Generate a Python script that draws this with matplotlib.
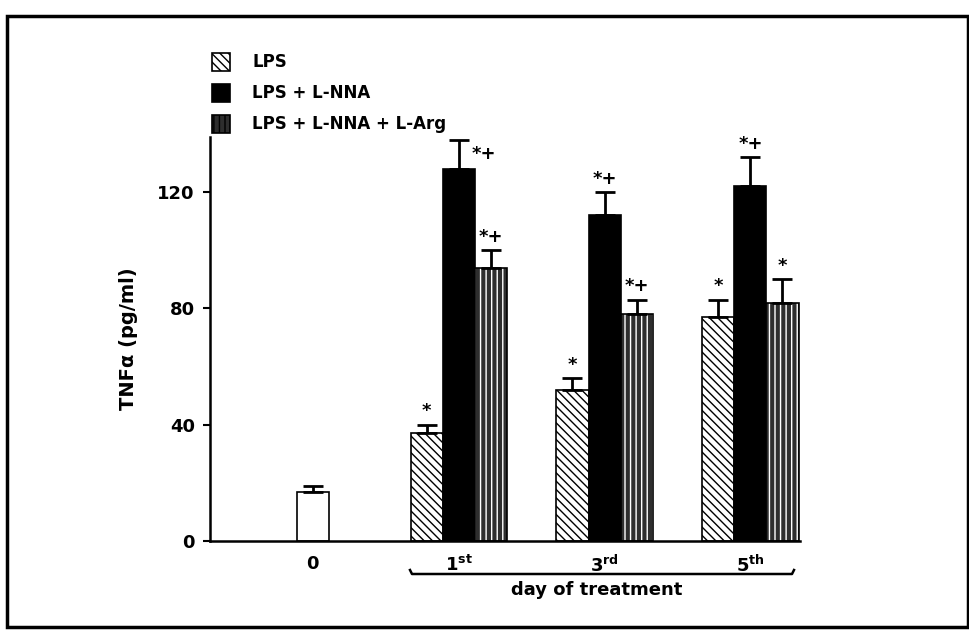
import matplotlib.pyplot as plt
from matplotlib.patches import Rectangle
from matplotlib.lines import Line2D

plt.rcParams['font.family'] = ['DejaVu Sans']
plt.rcParams['font.weight'] = 'bold'
plt.rcParams['hatch.linewidth'] = 1.0

# data (pg/ml)
days = ['0', r'1$^{\mathbf{st}}$', r'3$^{\mathbf{rd}}$', r'5$^{\mathbf{th}}$']
control = [17]
control_err = [2]
lps = [37, 52, 77]
lps_err = [3, 4, 6]
lnna = [128, 112, 122]
lnna_err = [10, 8, 10]
larg = [94, 78, 82]
larg_err = [6, 5, 8]
lps_marks = ['*', '*', '*']
lnna_marks = ['*+', '*+', '*+']
larg_marks = ['*+', '*+', '*']
series_names = ['LPS', 'LPS + L-NNA', 'LPS + L-NNA + L-Arg']

fig = plt.figure(figsize=(9.7, 6.3), dpi=100)
ax = fig.add_axes([210/970, 1 - 541/630, 590/970, 404/630])

w = 0.22
pos = [1, 2, 3]
ebkw = dict(lw=2, capthick=2)

ax.bar([0], control, w, color='white', edgecolor='black', lw=1.2)
ax.errorbar([0], control, yerr=[[0], control_err], fmt='none', ecolor='black',
            capsize=7, **ebkw)

x_lps = [p - w for p in pos]
x_lnna = pos
x_larg = [p + w for p in pos]

ax.bar(x_lps, lps, w, color='white', edgecolor='black', hatch='\\\\\\\\', lw=1.2)
ax.bar(x_lnna, lnna, w, color='black', edgecolor='black', lw=1.2)
ax.bar(x_larg, larg, w, color='#2e2e2e', edgecolor='white', hatch='|||', lw=0)
ax.bar(x_larg, larg, w, fill=False, edgecolor='black', lw=1.2)

for xs, vals, errs, marks in [(x_lps, lps, lps_err, lps_marks),
                              (x_lnna, lnna, lnna_err, lnna_marks),
                              (x_larg, larg, larg_err, larg_marks)]:
    ax.errorbar(xs, vals, yerr=[[0]*len(errs), errs], fmt='none', ecolor='black',
                capsize=7, **ebkw)
    for x, v, e, m in zip(xs, vals, errs, marks):
        if v + e > 135:
            # no room above the tallest bar: mark sits beside the error bar
            ax.text(x + 0.17, v + e - 5, m, ha='center', va='center',
                    fontsize=13, fontweight='bold')
        else:
            ax.text(x, v + e + 1.5, m, ha='center', va='bottom', fontsize=13,
                    fontweight='bold')

ax.set_xlim(-0.705, 3.34)
ax.set_ylim(0, 139)
ax.set_yticks([0, 40, 80, 120])
ax.set_xticks([0, 1, 2, 3])
ax.set_xticklabels(days, fontsize=13, fontweight='bold')
ax.tick_params(axis='x', length=0, pad=10)
ax.tick_params(axis='y', direction='out', length=5, width=1.5, labelsize=13, pad=6)
for s in ['top', 'right']:
    ax.spines[s].set_visible(False)
for s in ['left', 'bottom']:
    ax.spines[s].set_linewidth(1.8)
ax.set_ylabel('TNF\u03b1 (pg/ml)', fontsize=14, fontweight='bold', labelpad=14)

# bracket under treated days
fig.add_artist(Line2D([410/970, 412/970, 792/970, 794/970],
                      [1 - 570/630, 1 - 574/630, 1 - 574/630, 1 - 570/630],
                      color='black', lw=1.8))
fig.text(597/970, 1 - 590/630, 'day of treatment', ha='center', va='center',
         fontsize=13, fontweight='bold')

# legend drawn by hand to match the layout
leg_y = [62, 93, 124]
styles = [dict(facecolor='white', hatch='\\\\\\\\'),
          dict(facecolor='black', hatch=None),
          dict(facecolor='#2e2e2e', hatch='|||')]
for yy, name, st in zip(leg_y, series_names, styles):
    r = Rectangle((212/970, 1 - (yy + 9)/630), 18/970, 18/630,
                  facecolor=st['facecolor'], edgecolor='black',
                  hatch=st['hatch'], lw=1.2, transform=fig.transFigure)
    fig.add_artist(r)
    fig.text(252/970, 1 - yy/630, name, ha='left', va='center', fontsize=12,
             fontweight='bold')

# outer frame of the scanned panel
fig.add_artist(Rectangle((7/970, 1 - 627/630), 961/970, 611/630, fill=False,
                         edgecolor='black', lw=2.5, transform=fig.transFigure))

fig.savefig('out.png', dpi=100)
